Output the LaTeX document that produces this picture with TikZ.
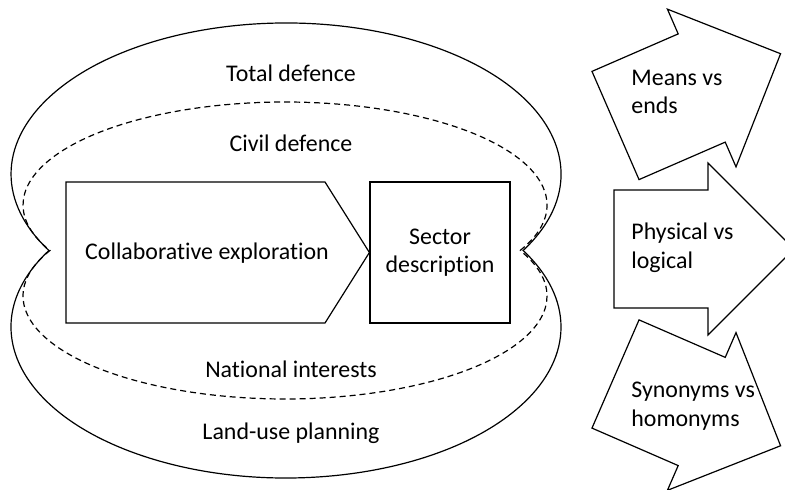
\documentclass[tikz,border=0pt]{standalone}
\usepackage{fontspec}
\setmainfont{Carlito}[RawFeature={-liga}]
\usetikzlibrary{positioning}

\begin{document}
\begin{tikzpicture}[x=0.5pt,y=0.5pt
    , every node/.style={inner sep=1pt,font=\fontsize{11.95}{14.3}\selectfont}
    , outline/.style={draw=black,line width=0.6pt}
    , dashline/.style={outline,dash pattern=on 3pt off 2pt}
]
    \useasboundingbox (0,0) rectangle (785,-490);

    % Outer and inner rings.
    \coordinate (cuspL) at (48.9,-250.5);
    \coordinate (cuspR) at (523.1,-250.5);
    \draw[outline] (cuspR)
        arc[start angle=-30.44,end angle=210.44,x radius=275,y radius=151]
        arc[start angle=149.56,end angle=390.44,x radius=275,y radius=151] -- cycle;
    \draw[dashline] (520.1,-250.5)
        arc[start angle=-26.2,end angle=206.2,x radius=262,y radius=103]
        arc[start angle=153.8,end angle=386.2,x radius=262,y radius=103] -- cycle;

    \node (total) at (291,-73) {Total defence};
    \node (civil) at (291,-143) {Civil defence};
    \node (national) at (291,-369) {National interests};
    \node (landuse) at (291,-433) {Land-use planning};

    % Process.
    \node[outline,minimum width=70pt,minimum height=70.5pt,align=center,inner sep=0pt]
        (sector) at (440,-252.5) {Sector\\description};
    \draw[outline] (66,-182) -- (325,-182) -- (sector.west) -- (325,-323)
        -- (66,-323) -- cycle;
    \node (collab) at (207,-253) {Collaborative exploration};

    % Arrows on the right.
    \foreach \ang/\ax/\ay/\ty/\nm/\txt in {23.5/615.5/125.5/92/means/{Means vs\\ends},
        0/614/249/247.5/physical/{Physical vs\\logical},
        -23.5/615.5/374/406/synonyms/{Synonyms vs\\homonyms}}
    {
        \draw[outline,shift={(\ax,-\ay)},rotate=\ang] (0,59) -- (94,59) -- (94,86)
            -- (180,0) -- (94,-86) -- (94,-59) -- (0,-59) -- cycle;
        \node[anchor=west,align=left] (\nm) at (629,-\ty) {\txt};
    }

\end{tikzpicture}
\end{document}
